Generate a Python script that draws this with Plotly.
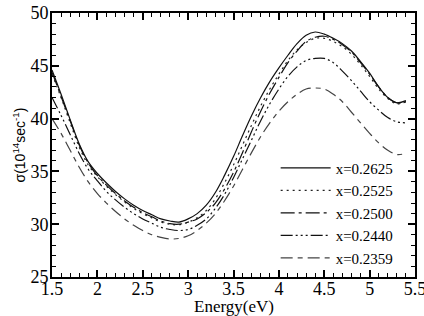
import plotly.graph_objects as go

energy = [round(1.5 + 0.1 * i, 1) for i in range(40)]

s_2625 = [44.6, 42.3, 39.9, 37.6, 35.9, 34.8, 33.9, 33.1, 32.4, 31.8,
          31.3, 30.9, 30.5, 30.3, 30.2, 30.5, 31.0, 31.8, 33.0, 34.6,
          36.4, 38.4, 40.3, 42.0, 43.5, 44.8, 46.0, 47.1, 47.9, 48.2,
          48.0, 47.6, 47.1, 46.4, 45.4, 44.3, 43.0, 42.0, 41.5, 41.7]
s_2525 = [44.2, 42.0, 39.6, 37.3, 35.6, 34.5, 33.6, 32.8, 32.1, 31.5,
          31.0, 30.6, 30.2, 30.0, 29.95, 30.2, 30.6, 31.3, 32.4, 33.9,
          35.6, 37.5, 39.4, 41.2, 42.8, 44.2, 45.5, 46.5, 47.2, 47.6,
          47.6, 47.3, 46.8, 46.1, 45.1, 44.0, 42.8, 41.9, 41.4, 41.6]
s_2500 = [44.4, 42.1, 39.8, 37.5, 35.8, 34.6, 33.7, 32.9, 32.2, 31.6,
          31.1, 30.7, 30.3, 30.05, 30.0, 30.2, 30.5, 31.1, 32.0, 33.3,
          34.9, 36.8, 38.8, 40.7, 42.4, 43.9, 45.3, 46.4, 47.3, 47.7,
          47.8, 47.5, 47.0, 46.3, 45.3, 44.2, 43.0, 42.0, 41.5, 41.6]
s_2440 = [42.0, 40.3, 38.5, 36.7, 35.2, 34.1, 33.1, 32.3, 31.6, 31.0,
          30.5, 30.1, 29.7, 29.5, 29.4, 29.5, 29.9, 30.5, 31.5, 32.8,
          34.4, 36.2, 38.0, 39.8, 41.4, 42.8, 44.0, 44.9, 45.5, 45.7,
          45.7, 45.3, 44.5, 43.6, 42.6, 41.6, 40.8, 40.1, 39.7, 39.6]
s_2359 = [40.0, 38.6, 37.0, 35.4, 34.0, 32.9, 32.0, 31.2, 30.5, 29.9,
          29.4, 29.0, 28.75, 28.6, 28.65, 28.9, 29.4, 30.1, 31.0, 32.2,
          33.6, 35.2, 36.8, 38.3, 39.6, 40.7, 41.6, 42.3, 42.8, 42.9,
          42.8, 42.3, 41.6, 40.6, 39.6, 38.6, 37.7, 37.0, 36.6, 36.7]

labels = ["x=0.2625", "x=0.2525", "x=0.2500", "x=0.2440", "x=0.2359"]
series = [s_2625, s_2525, s_2500, s_2440, s_2359]
dashes = ["solid", "2px,4px", "14px,4px,3px,4px",
          "12px,3px,2px,3px,2px,3px,2px,3px", "12px,5px,5px,5px"]
colors = ["#111111", "#222222", "#111111", "#111111", "#444444"]

fig = go.Figure()
for lab, ys, d, c in zip(labels, series, dashes, colors):
    fig.add_trace(go.Scatter(x=energy, y=ys, mode="lines", name=lab,
                             line=dict(color=c, width=1.2, dash=d, shape="spline")))

serif = "Liberation Serif"
axis_common = dict(showline=True, linecolor="black", linewidth=2, mirror="allticks",
                   ticks="inside", ticklen=7, tickwidth=1.5, tickcolor="black",
                   showgrid=False, zeroline=False, automargin=False,
                   ticklabeloverflow="allow",
                   tickfont=dict(family=serif, size=18, color="black"))
fig.update_xaxes(range=[1.5, 5.5], dtick=0.5, tick0=1.5, ticklabelstandoff=-6,
                 minor=dict(dtick=0.1, ticks="inside", ticklen=4, tickcolor="black", tickwidth=1),
                 **axis_common)
fig.update_yaxes(range=[25, 50], dtick=5, ticklabelstandoff=-2,
                 minor=dict(dtick=1, ticks="inside", ticklen=4, tickcolor="black", tickwidth=1),
                 title=dict(text="σ(10<sup>14</sup>sec<sup>-1</sup>)",
                            font=dict(family="Liberation Sans", size=14, color="black"),
                            standoff=2),
                 **axis_common)
fig.add_annotation(text="Energy(eV)", xref="paper", yref="paper", x=0.5, y=0,
                   yshift=-29, xanchor="center", yanchor="middle", showarrow=False,
                   font=dict(family=serif, size=17, color="black"))
fig.update_layout(
    width=424, height=316,
    margin=dict(l=52, r=9, t=13, b=39),
    plot_bgcolor="white", paper_bgcolor="white",
    showlegend=True,
    legend=dict(x=0.955, y=0.475, xanchor="right", yanchor="top",
                bgcolor="rgba(0,0,0,0)", borderwidth=0,
                font=dict(family=serif, size=15, color="black"),
                itemwidth=50, tracegroupgap=0),
)
fig.write_html("out.html")
